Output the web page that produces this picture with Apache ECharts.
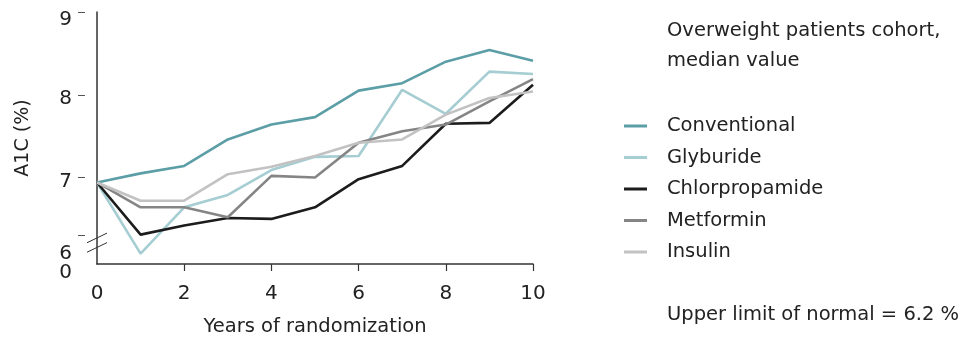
<!DOCTYPE html>
<html>
<head>
<meta charset="utf-8">
<script src="https://cdn.jsdelivr.net/npm/echarts@6/dist/echarts.min.js"></script>
<style>
html,body{margin:0;padding:0;background:#fff;}
#chart{width:960px;height:337px;}
</style>
</head>
<body>
<div id="chart"></div>
<script>
// ---- data ----
const years = [0, 1, 2, 3, 4, 5, 6, 7, 8, 9, 10];
const seriesNames = ['Conventional', 'Glyburide', 'Chlorpropamide', 'Metformin', 'Insulin'];
const conventional   = [6.94, 7.05, 7.14, 7.46, 7.64, 7.73, 8.05, 8.14, 8.40, 8.54, 8.41];
const glyburide      = [6.94, 6.08, 6.64, 6.79, 7.09, 7.25, 7.26, 8.06, 7.77, 8.28, 8.25];
const chlorpropamide = [6.94, 6.31, 6.42, 6.51, 6.50, 6.64, 6.98, 7.14, 7.65, 7.66, 8.12];
const metformin      = [6.94, 6.64, 6.64, 6.52, 7.02, 7.00, 7.42, 7.56, 7.64, 7.92, 8.19];
const insulin        = [6.94, 6.72, 6.72, 7.04, 7.13, 7.26, 7.42, 7.46, 7.76, 7.96, 8.04];
const xTickLabels = ['0', '2', '4', '6', '8', '10'];
const yTickLabels = ['6', '7', '8', '9'];
const yBreakLabel = '0';
const titleText = 'Overweight patients cohort,\nmedian value';
const noteText = 'Upper limit of normal = 6.2 %';

// ---- styling ----
const colors = ['#5c9ea6', '#a5cdd2', '#1c1c1c', '#858585', '#c2c2c2'];
const FONT = 'DejaVu Sans';
const textColor = '#222';
const yMin = 5.955, yMax = 9;
const xLabelPos = [0, 2, 4, 6, 8, 10];
const yLabelPos = [6.13, 7, 8, 9];
const yLabelShift = ['s4', 's4', 's4', 's8'];
const yTickPos = [6.307, 7, 8, 9];

const allSeries = [conventional, glyburide, chlorpropamide, metformin, insulin];

function nearestIndex(v, pos) {
  let best = 0;
  for (let i = 1; i < pos.length; i++) {
    if (Math.abs(pos[i] - v) < Math.abs(pos[best] - v)) best = i;
  }
  return best;
}
const lblStyle = (shift) => ({fontFamily: FONT, fontSize: 20, color: textColor, padding: [shift * 2, 0, 0, 0]});

const chart = echarts.init(document.getElementById('chart'), null, {renderer: 'canvas'});

const option = {
  animation: false,
  backgroundColor: '#fff',
  textStyle: {fontFamily: FONT, color: textColor},
  title: [
    {text: titleText, left: 667, top: 16, padding: 0,
     textStyle: {fontFamily: FONT, fontSize: 19.5, fontWeight: 'normal', color: textColor, lineHeight: 30}},
    {text: noteText, left: 667, top: 305, padding: 0,
     textStyle: {fontFamily: FONT, fontSize: 19.5, fontWeight: 'normal', color: textColor}}
  ],
  legend: {
    orient: 'vertical',
    left: 624, top: 116, padding: 0,
    icon: 'rect',
    itemWidth: 23, itemHeight: 3,
    itemGap: 11.5,
    textStyle: {fontFamily: FONT, fontSize: 19.5, color: textColor, lineHeight: 20, padding: [0, 0, 0, 15]},
    data: seriesNames
  },
  grid: {left: 97, right: 427, top: 12, bottom: 73, containLabel: false, outerBoundsMode: 'none'},
  xAxis: {
    type: 'value', min: 0, max: 10, interval: 2,
    name: 'Years of randomization', nameLocation: 'middle', nameGap: 53,
    nameTextStyle: {fontFamily: FONT, fontSize: 19.5, color: textColor},
    axisLine: {lineStyle: {color: '#333', width: 1.5}},
    axisTick: {show: true, length: 7, lineStyle: {color: '#333', width: 1.2}, customValues: [2, 4, 6, 8, 10]},
    axisLabel: {show: true, fontFamily: FONT, fontSize: 20, color: textColor, margin: 20,
      customValues: xLabelPos,
      formatter: (v) => xTickLabels[nearestIndex(v, xLabelPos)]},
    splitLine: {show: false}
  },
  yAxis: [
    {
      type: 'value', min: yMin, max: yMax,
      name: 'A1C (%)', nameLocation: 'middle', nameGap: 64, nameRotate: 90,
      nameTextStyle: {fontFamily: FONT, fontSize: 19, color: textColor},
      axisLine: {show: true, lineStyle: {color: '#333', width: 1.5}},
      axisTick: {show: false},
      axisLabel: {show: true, margin: 25,
        customValues: yLabelPos,
        formatter: (v) => {
          const i = nearestIndex(v, yLabelPos);
          return '{' + yLabelShift[i] + '|' + yTickLabels[i] + '}';
        },
        rich: {s4: lblStyle(4.5), s8: lblStyle(8)}},
      splitLine: {show: false}
    },
    {
      type: 'value', min: yMin, max: yMax, offset: 12, position: 'left',
      axisLine: {show: false},
      axisTick: {show: true, length: 7, lineStyle: {color: '#555', width: 1}, customValues: yTickPos},
      axisLabel: {show: true, margin: 13,
        customValues: [yMin],
        formatter: () => '{s8|' + yBreakLabel + '}',
        rich: {s8: lblStyle(8.5)}},
      splitLine: {show: false}
    }
  ],
  series: seriesNames.map((name, k) => ({
    name: name, type: 'line',
    data: years.map((x, i) => [x, allSeries[k][i]]),
    showSymbol: false, symbol: 'none',
    lineStyle: {color: colors[k], width: 2.6},
    itemStyle: {color: colors[k]},
    z: 2 + k
  }))
};
chart.setOption(option);

// axis-break marks around the bottom of the y axis
const p1 = chart.convertToPixel({xAxisIndex: 0, yAxisIndex: 0}, [0, 6.27]);
const p2 = chart.convertToPixel({xAxisIndex: 0, yAxisIndex: 0}, [0, 6.155]);
const mk = (p) => ({type: 'line', shape: {x1: p[0] - 10, y1: p[1] + 4.8, x2: p[0] + 10, y2: p[1] - 4.8},
  style: {stroke: '#333', lineWidth: 1}, z: 100});
chart.setOption({graphic: [mk(p1), mk(p2)]});
</script>
</body>
</html>
